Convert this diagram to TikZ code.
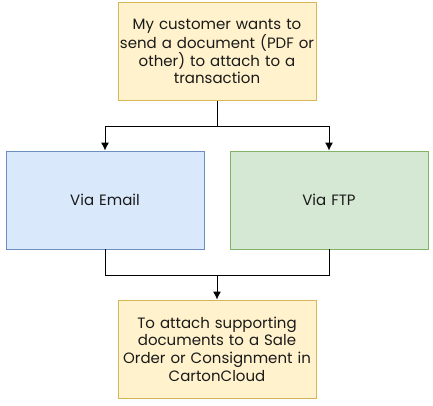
\documentclass[tikz,border=0pt]{standalone}
\usepackage{fontspec}
\setmainfont{Poppins}
\usetikzlibrary{arrows.meta}
\definecolor{yfill}{HTML}{FFF2CC}\definecolor{ydraw}{HTML}{D6B656}
\definecolor{bfill}{HTML}{DAE8FC}\definecolor{bdraw}{HTML}{6C8EBF}
\definecolor{gfill}{HTML}{D5E8D4}\definecolor{gdraw}{HTML}{82B366}
\definecolor{txt}{HTML}{1A1A1A}
\tikzset{
  box/.style={draw, line width=0.9pt, minimum width=198pt, minimum height=98pt, inner sep=0pt,
    align=center, text width=196pt, font=\fontsize{15}{17.7}\selectfont, text=txt},
  conn/.style={line width=0.9pt, -{Latex[length=8pt,width=8pt]}},
  plain/.style={line width=0.9pt}
}
\begin{document}
\begin{tikzpicture}[x=1pt,y=-1pt]
\useasboundingbox (0,0) rectangle (433,405);
\node[box, fill=yfill, draw=ydraw] (top) at (217,51.5) {My customer wants to\\send a document (PDF or\\other) to attach to a\\transaction};
\node[box, fill=bfill, draw=bdraw] (email) at (105,200) {Via Email};
\node[box, fill=gfill, draw=gdraw] (ftp) at (329,200) {Via FTP};
\node[box, fill=yfill, draw=ydraw] (bot) at (217,349) {To attach supporting\\documents to a Sale\\Order or Consignment in\\CartonCloud};
\coordinate (j1) at (217,126);
\coordinate (j2) at (217,275);
\draw[plain] (top.south) -- (j1);
\draw[conn] (j1) -| (email.north);
\draw[conn] (j1) -| (ftp.north);
\draw[plain] (email.south) |- (j2);
\draw[plain] (ftp.south) |- (j2);
\draw[conn] (j2) -- (bot.north);
\end{tikzpicture}
\end{document}
